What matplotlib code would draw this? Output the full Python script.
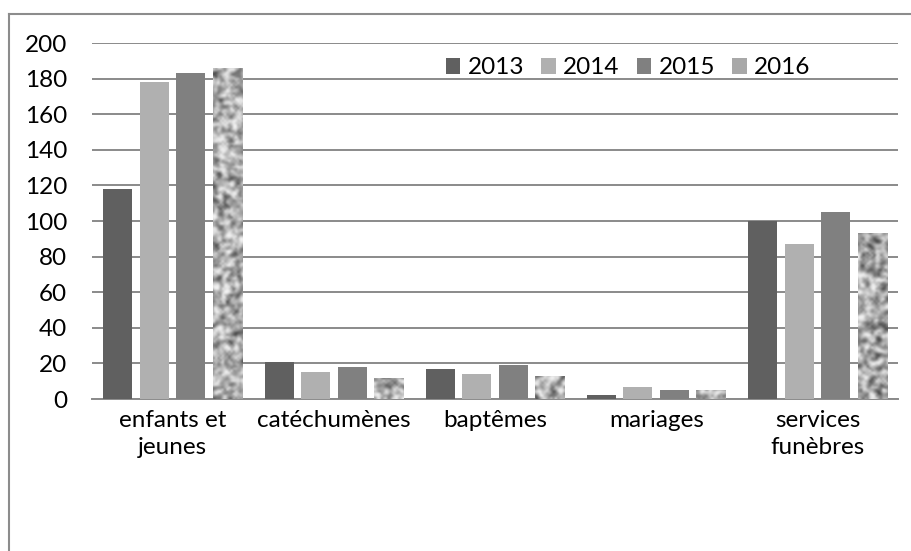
import numpy as np
import matplotlib
matplotlib.use("Agg")
import matplotlib.pyplot as plt
from matplotlib.patches import Patch
from matplotlib.lines import Line2D

plt.rcParams['font.family'] = ['Lato', 'DejaVu Sans']

# data
categories = ['enfants et\njeunes', 'catéchumènes', 'baptêmes', 'mariages', 'services\nfunèbres']
years = ['2013', '2014', '2015', '2016']
v2013 = [118, 21, 17, 2, 100]
v2014 = [178, 15, 14, 7, 87]
v2015 = [183, 18, 19, 5, 105]
v2016 = [186, 12, 13, 5, 93]
series = [v2013, v2014, v2015, v2016]
colors = ['#606060', '#b0b0b0', '#808080', '#a8a8a8']


def granite(h, w):
    # deterministic speckled texture for the 2016 bars
    yy, xx = np.mgrid[0:h, 0:w].astype(float)
    t = np.sin(xx * 12.9898 + yy * 78.233) * 43758.5453
    t = t - np.floor(t)
    t = (t + np.roll(t, 1, 0) + np.roll(t, -1, 0) + np.roll(t, 1, 1) + np.roll(t, -1, 1)) / 5
    t = (t - t.mean()) / t.std()
    return np.clip(0.68 + 0.17 * t, 0.25, 0.95)


fig = plt.figure(figsize=(9.12, 5.51), dpi=100)
ax = fig.add_axes([92 / 912, 152 / 551, 806 / 912, 356 / 551])

x = np.arange(len(categories))
step = 0.2265
width = 0.18
tex = granite(170, 380)
for i, (vals, c) in enumerate(zip(series, colors)):
    bars = ax.bar(x + (i - 1.5) * step, vals, width, color=c, zorder=3, label=years[i])
    if i == 3:
        for b in bars:
            b.set_facecolor('none')
            b.set_edgecolor('none')
            im = ax.imshow(tex, cmap='gray', vmin=0, vmax=1, aspect='auto',
                           extent=[-0.5, 4.5, 0, 200], zorder=3, interpolation='bicubic')
            im.set_clip_path(b)

ax.set_xlim(-0.5, 4.5)
ax.set_ylim(0, 200)
ax.set_yticks(range(0, 201, 20))
ax.set_xticks(x)
ax.set_xticklabels(categories, fontsize=17.5, linespacing=1.35)
ax.tick_params(axis='y', labelsize=17.5, length=0, pad=18)
ax.tick_params(axis='x', length=0, pad=8)
ax.yaxis.grid(True, color='#8a8a8a', linewidth=1.4, zorder=0)
ax.set_axisbelow(True)
for s in ['top', 'right', 'left']:
    ax.spines[s].set_visible(False)
ax.spines['bottom'].set_color('#8a8a8a')
ax.spines['bottom'].set_linewidth(1.4)

handles = [Patch(facecolor=c) for c in colors]
ax.legend(handles, years, ncol=4, loc='center', bbox_to_anchor=(0.665, 0.93),
          frameon=False, fontsize=17.5, handlelength=0.6, handleheight=0.6,
          handletextpad=0.3, columnspacing=0.7)

# outer chart frame
fig.add_artist(Line2D([9 / 912, 9 / 912], [0, 1 - 14 / 551], color='#8c8c8c', lw=1.5))
fig.add_artist(Line2D([9 / 912, 1], [1 - 14 / 551, 1 - 14 / 551], color='#8c8c8c', lw=1.5))

fig.savefig('out.png', dpi=100)
